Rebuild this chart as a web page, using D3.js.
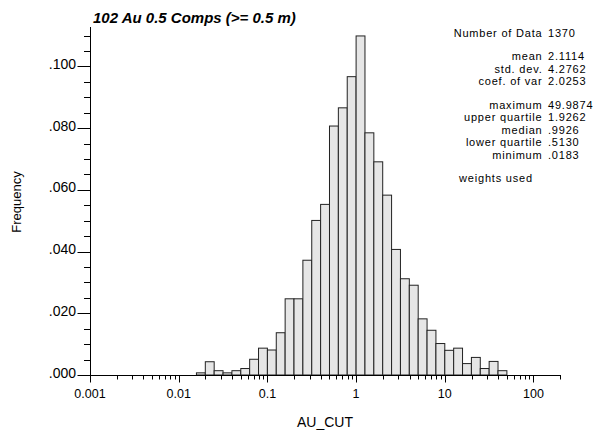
<!DOCTYPE html>
<html>
<head>
<meta charset="utf-8">
<script src="https://cdn.jsdelivr.net/npm/d3@7"></script>
<style>
  body { margin: 0; background: #fff; }
  svg { display: block; font-family: "Liberation Sans", Arial, sans-serif; }
</style>
</head>
<body>
<div id="chart"></div>
<script>
// histogram bins: lower edge in log10 units, width 0.1
const binStarts = [-1.8, -1.7, -1.6, -1.5, -1.4, -1.3, -1.2, -1.1, -1.0, -0.9,
  -0.8, -0.7, -0.6, -0.5, -0.4, -0.3, -0.2, -0.1, 0.0, 0.1,
  0.2, 0.3, 0.4, 0.5, 0.6, 0.7, 0.8, 0.9, 1.0, 1.1,
  1.2, 1.3, 1.4, 1.5, 1.6];
const frequencies = [0.0007, 0.0043, 0.0014, 0.0007, 0.0014, 0.0021, 0.0051, 0.0087, 0.0081, 0.0137,
  0.0247, 0.0247, 0.0372, 0.0501, 0.0553, 0.0807, 0.0866, 0.0967, 0.1099, 0.0785,
  0.0691, 0.0583, 0.0407, 0.0312, 0.0291, 0.0182, 0.0145, 0.0102, 0.0080, 0.0087,
  0.0037, 0.0057, 0.0021, 0.0044, 0.0014];
const binWidth = 0.1;

const xTicks = [0.001, 0.01, 0.1, 1, 10, 100];
const yTicks = [0, 0.02, 0.04, 0.06, 0.08, 0.1];

const statLabels = ["Number of Data", "mean", "std. dev.", "coef. of var", "maximum",
  "upper quartile", "median", "lower quartile", "minimum"];
const statValues = ["1370", "2.1114", "4.2762", "2.0253", "49.9874",
  "1.9262", ".9926", ".5130", ".0183"];
const statGroups = [0, 1, 1, 1, 2, 2, 2, 2, 2];

const svg = d3.select("#chart").append("svg")
  .attr("width", 602)
  .attr("height", 433);

const x = d3.scaleLog().domain([0.001, 200]).range([90, 560.2]);
const y = d3.scaleLinear().domain([0, 0.1128]).range([375, 27]);

// bars
svg.append("g")
  .selectAll("rect")
  .data(binStarts)
  .join("rect")
  .attr("x", (d) => x(Math.pow(10, d)))
  .attr("width", (d) => x(Math.pow(10, d + binWidth)) - x(Math.pow(10, d)))
  .attr("y", (d, i) => y(frequencies[i]))
  .attr("height", (d, i) => y(0) - y(frequencies[i]))
  .attr("fill", "#e6e6e6")
  .attr("stroke", "#222")
  .attr("stroke-width", 1);

// y axis with minor ticks every .005
const yMinor = d3.range(0, 0.1101, 0.005);
const yAxis = svg.append("g");
yAxis.append("line")
  .attr("x1", 90.5).attr("x2", 90.5)
  .attr("y1", y.range()[1]).attr("y2", y(0))
  .attr("stroke", "black");
yAxis.selectAll(".minor")
  .data(yMinor)
  .join("line")
  .attr("x1", 84).attr("x2", 90.5)
  .attr("y1", (d) => Math.round(y(d)) + 0.5)
  .attr("y2", (d) => Math.round(y(d)) + 0.5)
  .attr("stroke", "black");
yAxis.selectAll(".major")
  .data(yTicks)
  .join("line")
  .attr("x1", 77.5).attr("x2", 90.5)
  .attr("y1", (d) => Math.round(y(d)) + 0.5)
  .attr("y2", (d) => Math.round(y(d)) + 0.5)
  .attr("stroke", "black");
yAxis.selectAll("text")
  .data(yTicks)
  .join("text")
  .attr("x", 76)
  .attr("y", (d) => y(d) + 2.5)
  .attr("text-anchor", "end")
  .style("font-size", "14px")
  .text((d) => d3.format(".3f")(d).replace(/^0/, ""));

// x axis, log decades with minor ticks
const xMinor = [];
xTicks.forEach((t) => {
  for (let k = 2; k <= 9; k++) if (t * k <= 200) xMinor.push(t * k);
});
const xAxis = svg.append("g");
xAxis.append("line")
  .attr("x1", 90).attr("x2", x(200))
  .attr("y1", 375.5).attr("y2", 375.5)
  .attr("stroke", "black");
xAxis.selectAll(".minor")
  .data(xMinor)
  .join("line")
  .attr("x1", (d) => Math.round(x(d)) + 0.5)
  .attr("x2", (d) => Math.round(x(d)) + 0.5)
  .attr("y1", 375).attr("y2", 379.5)
  .attr("stroke", "black");
xAxis.selectAll(".major")
  .data(xTicks)
  .join("line")
  .attr("x1", (d) => Math.round(x(d)) + 0.5)
  .attr("x2", (d) => Math.round(x(d)) + 0.5)
  .attr("y1", 375).attr("y2", 382.5)
  .attr("stroke", "black");
xAxis.selectAll("text")
  .data(xTicks)
  .join("text")
  .attr("x", (d) => x(d))
  .attr("y", 398)
  .attr("text-anchor", "middle")
  .style("font-size", "12.5px")
  .text((d) => String(d));

// axis titles
svg.append("text")
  .attr("x", 325).attr("y", 427)
  .attr("text-anchor", "middle")
  .style("font-size", "14px")
  .text("AU_CUT");
svg.append("text")
  .attr("transform", "translate(20.5,202) rotate(-90)")
  .attr("text-anchor", "middle")
  .style("font-size", "13px")
  .text("Frequency");

// title
svg.append("text")
  .attr("x", 93).attr("y", 22.5)
  .style("font-size", "15px")
  .style("font-weight", "bold")
  .style("font-style", "italic")
  .text("102 Au 0.5 Comps (>= 0.5 m)");

// statistics block (small font, spaced out to keep the rows clear)
const rowY = (i, g) => 36.5 + i * 12.5 + g * 11;
const stats = svg.append("g")
  .style("font-size", "11px")
  .style("letter-spacing", "0.8px");
stats.selectAll(".lab")
  .data(statLabels)
  .join("text")
  .attr("x", 542.5)
  .attr("y", (d, i) => rowY(i, statGroups[i]))
  .attr("text-anchor", "end")
  .text((d) => d);
stats.selectAll(".val")
  .data(statValues)
  .join("text")
  .attr("x", 548)
  .attr("y", (d, i) => rowY(i, statGroups[i]))
  .text((d) => d);
stats.append("text")
  .attr("x", 496)
  .attr("y", rowY(9, 3))
  .attr("text-anchor", "middle")
  .text("weights used");
</script>
</body>
</html>
